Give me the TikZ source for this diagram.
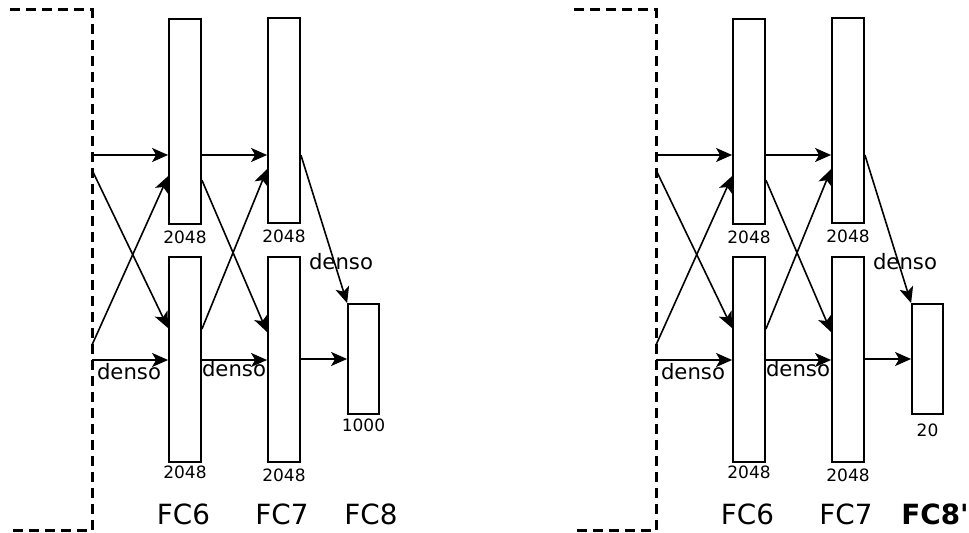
\documentclass[tikz,border=0pt]{standalone}
\usepackage{fontspec}
\newfontfamily\dejavu{DejaVu Sans}
\usetikzlibrary{positioning,arrows.meta}

\begin{document}
\begin{tikzpicture}[x=0.5pt,y=-0.5pt,
    every node/.style={inner sep=1pt},
    fcbox/.style={draw,line width=0.9pt,minimum width=16pt,inner sep=0pt},
    numlbl/.style={font=\dejavu\fontsize{8.5}{10}\selectfont},
    densolbl/.style={font=\dejavu\fontsize{10.6}{12}\selectfont},
    fclbl/.style={font=\dejavu\fontsize{13.9}{16}\selectfont},
    conn/.style={line width=0.8pt,-{Stealth[length=8pt,width=7pt,inset=2pt]}},
    border/.style={line width=1.5pt,dash pattern=on 5pt off 3pt}]
  \useasboundingbox (0,0) rectangle (969,533);
  \foreach \dx/\p/\outn/\outd/\outl in {0/l/1000/1pt/FC8,564/r/20/3.5pt/{\textbf{FC8'}}}{
  \begin{scope}[shift={(\dx,0)}]
    \draw[border] (10,10) -- (92,10) -- (92,531) -- (10,531);
    \coordinate (in1\p) at (92,155);
    \coordinate (in2\p) at (93,172);
    \coordinate (in3\p) at (92,345);
    \coordinate (in4\p) at (92,360);
    \node[fcbox,minimum height=102.5pt] (fc6t\p) at (185,121.5) {};
    \node[fcbox,minimum height=102.5pt] (fc6b\p) at (185,359.5) {};
    \node[fcbox,minimum height=102.5pt] (fc7t\p) at (284,120.5) {};
    \node[fcbox,minimum height=102.5pt] (fc7b\p) at (284,359.5) {};
    \node[fcbox,minimum height=55pt,minimum width=15.5pt] (fc8\p) at (363.5,359) {};
    \node[numlbl,below=2pt of fc6t\p] (n6t\p) {2048};
    \node[numlbl,below=2pt of fc7t\p] (n7t\p) {2048};
    \node[numlbl,below=0.5pt of fc6b\p] (n6b\p) {2048};
    \node[numlbl,below=2pt of fc7b\p] (n7b\p) {2048};
    \node[numlbl,below=\outd of fc8\p] (n8\p) {\outn};
    \node[densolbl] (d1\p) at (129,372) {denso};
    \node[densolbl] (d2\p) at (234,368.5) {denso};
    \node[densolbl] (d3\p) at (341,262) {denso};
    \node[fclbl] (t6\p) at (183.5,514) {FC6};
    \node[fclbl] (t7\p) at (282,514) {FC7};
    \node[fclbl] (t8\p) at (\ifx\p l364\else371\fi,514) {\outl};
    \draw[conn] (in1\p) -- (fc6t\p.west |- in1\p);
    \draw[conn] (in2\p) -- ([yshift=-36pt]fc6b\p.north west);
    \draw[conn] (in3\p) -- ([yshift=-79pt]fc6t\p.north west);
    \draw[conn] (in4\p) -- (fc6b\p.west |- in4\p);
    \draw[conn] (fc6t\p.east |- in1\p) -- (fc7t\p.west |- in1\p);
    \draw[conn] ([yshift=-81pt]fc6t\p.north east) -- ([yshift=-38pt]fc7b\p.north west);
    \draw[conn] ([yshift=-36.5pt]fc6b\p.north east) -- ([yshift=-76pt]fc7t\p.north west);
    \draw[conn] (fc6b\p.east |- in4\p) -- (fc7b\p.west |- in4\p);
    \draw[conn] (fc7t\p.east |- in1\p) -- (fc8\p.north west);
    \draw[conn] (fc7b\p.east |- fc8\p.west) -- (fc8\p.west);
  \end{scope}}
\end{tikzpicture}
\end{document}
